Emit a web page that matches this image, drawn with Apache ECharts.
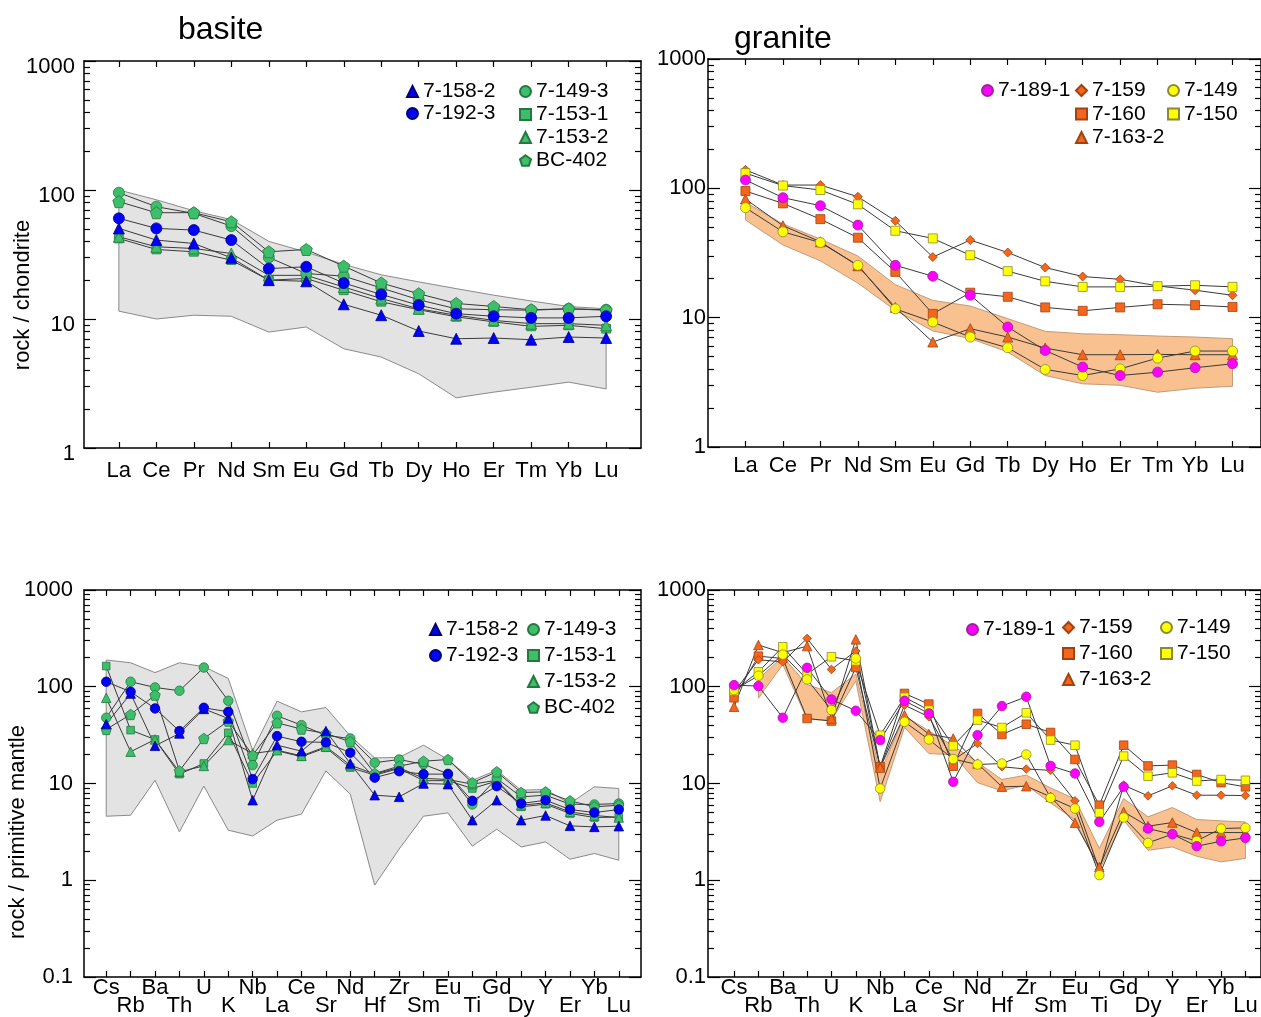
<!DOCTYPE html>
<html><head><meta charset="utf-8">
<script src="https://cdn.jsdelivr.net/npm/echarts@6/dist/echarts.min.js"></script>
<style>html,body{margin:0;padding:0;background:#fff}#c{width:1261px;height:1017px}</style>
</head><body><div id="c"></div>
<script>
const FONT = 'Liberation Sans, Arial, sans-serif';

// ---------- categories / tick labels ----------
const REE = ['La','Ce','Pr','Nd','Sm','Eu','Gd','Tb','Dy','Ho','Er','Tm','Yb','Lu'];
const SPIDER = ['Cs','Rb','Ba','Th','U','K','Nb','La','Ce','Sr','Nd','Hf','Zr','Sm','Eu','Ti','Gd','Dy','Y','Er','Yb','Lu'];
const Y_TICKS_CHONDRITE = [1, 10, 100, 1000];
const Y_TICKS_MANTLE = [0.1, 1, 10, 100, 1000];

// ---------- panel A: basite, chondrite-normalised REE ----------
const bREE_7_158_2 = [50.4, 40.9, 38.5, 29.8, 20.0, 19.6, 13.0, 10.7, 8.07, 7.03, 7.12, 6.91, 7.25, 7.12];
const bREE_7_192_3 = [60.3, 50.4, 48.9, 40.9, 24.6, 25.4, 19.0, 15.5, 12.8, 11.0, 10.5, 10.2, 10.2, 10.5];
const bREE_7_149_3 = [95.3, 74.2, 65.9, 52.5, 30.0, 22.5, 21.5, 17.4, 14.1, 12.0, 11.8, 11.7, 12.0, 11.8];
const bREE_7_153_1 = [42.1, 34.6, 33.2, 28.6, 20.0, 20.6, 16.7, 13.6, 11.8, 10.4, 9.5, 8.77, 8.93, 8.41];
const bREE_7_153_2 = [43.4, 36.3, 35.2, 32.2, 21.8, 21.8, 17.7, 14.4, 12.0, 10.7, 9.76, 9.2, 9.2, 8.93];
const bREE_BC_402  = [81.2, 66.7, 66.7, 56.7, 33.2, 34.6, 25.7, 19.0, 15.7, 13.2, 12.5, 11.8, 12.0, 11.7];
const bREE_fieldHi = [100, 84, 69, 59, 40, 33, 26.5, 22, 19.4, 17.2, 15.3, 13.8, 12.5, 12.0];
const bREE_fieldLo = [11.5, 10.0, 10.7, 10.5, 7.92, 8.67, 5.88, 5.07, 3.76, 2.45, 2.71, 2.96, 3.24, 2.87];

// ---------- panel B: granite, chondrite-normalised REE ----------
const gREE_7_189_1 = [116, 84.7, 73.4, 52.0, 25.4, 20.9, 14.9, 8.47, 5.58, 4.15, 3.57, 3.79, 4.10, 4.40];
const gREE_7_159   = [139, 106, 106, 86.1, 56.1, 29.4, 39.8, 31.9, 24.4, 20.8, 19.8, 17.6, 16.3, 14.9];
const gREE_7_160   = [95.3, 76.5, 57.8, 41.5, 22.6, 10.7, 15.6, 14.5, 12.0, 11.3, 12.0, 12.7, 12.5, 12.1];
const gREE_7_163_2 = [82.7, 51.4, 38.6, 25.2, 12.0, 6.48, 8.22, 7.08, 5.82, 5.17, 5.17, 5.20, 5.17, 5.17];
const gREE_7_149   = [70.8, 46.1, 38.1, 25.4, 11.7, 9.25, 7.08, 5.85, 3.98, 3.57, 4.02, 4.87, 5.52, 5.52];
const gREE_7_150   = [131, 105, 97.1, 75.2, 47.0, 41.0, 30.4, 22.9, 19.1, 17.3, 17.3, 17.5, 17.8, 17.3];
const gREE_fieldHi = [78, 53, 40.5, 30, 18, 13.6, 12.3, 9.82, 7.84, 7.51, 7.38, 7.21, 7.08, 6.88];
const gREE_fieldLo = [57, 36.5, 27.5, 18.5, 11.4, 7.9, 6.9, 5.42, 3.57, 3.08, 3.0, 2.65, 2.85, 2.95];

// ---------- panel C: basite, primitive-mantle spider ----------
const bPM_7_158_2 = [41.1, 85, 24.5, 32.9, 59, 47.0, 6.72, 24.9, 21.6, 34.8, 16.1, 7.57, 7.28, 10.0, 9.84, 4.18, 6.72, 4.18, 4.67, 3.65, 3.56, 3.62];
const bPM_7_192_3 = [112.6, 88.8, 59.7, 34.8, 60.6, 55.1, 11.1, 30.9, 27.0, 26.6, 20.8, 11.5, 13.4, 12.5, 12.5, 6.62, 9.38, 6.21, 6.72, 5.38, 5.01, 5.38];
const bPM_7_149_3 = [47.8, 112.6, 98.4, 90.9, 158, 71.6, 15.5, 50.1, 40.1, 31.4, 29.2, 16.4, 17.7, 15.8, 12.6, 6.07, 11.3, 7.28, 7.57, 6.11, 6.07, 6.21];
const bPM_7_153_1 = [163.6, 35.6, 28.5, 12.5, 16.1, 33.4, 10.0, 21.8, 18.9, 23.4, 14.6, 12.2, 14.3, 10.7, 10.7, 8.88, 10.6, 5.74, 6.11, 4.9, 4.45, 4.5];
const bPM_7_153_2 = [76.9, 21.3, 28.5, 13.2, 15.2, 28.1, 20.4, 22.1, 19.3, 24.0, 15.5, 12.5, 14.6, 11.3, 11.0, 9.84, 10.8, 5.97, 6.31, 5.09, 4.67, 4.45];
const bPM_BC_402  = [36.2, 51.7, 82, 13.5, 29.2, 44.2, 19.6, 42.4, 36.5, 32.9, 27.0, 12.7, 15.1, 17.0, 17.7, 10.2, 13.2, 8.07, 8.2, 6.62, 5.74, 5.97];
const bPM_fieldHi = [189, 177, 140, 177, 161, 122, 22, 71, 55, 61, 31, 18.4, 18.6, 24.9, 17.7, 10.8, 13.7, 8.53, 8.67, 6.21, 9.24, 8.88];
const bPM_fieldLo = [4.59, 4.70, 10.8, 3.16, 9.4, 3.29, 2.87, 4.18, 4.82, 13.5, 7.76, 0.89, 2.1, 4.59, 4.97, 2.25, 3.37, 2.21, 2.49, 1.65, 1.89, 1.61];

// ---------- panel D: granite, primitive-mantle spider ----------
const gPM_7_189_1 = [104, 101.6, 47.8, 157, 73.9, 56.5, 28.1, 71.6, 53.0, 10.4, 31.6, 63.1, 78.8, 15.2, 12.7, 4.01, 9.24, 3.42, 2.99, 2.25, 2.53, 2.74];
const gPM_7_159   = [88, 190, 181, 316, 151, 234, 14.7, 64.6, 48.9, 17.4, 25.9, 14.9, 14.1, 13.7, 6.62, 1.29, 9.6, 7.45, 9.46, 7.57, 7.57, 7.5];
const gPM_7_160   = [76.9, 207, 196, 47.0, 44.2, 158, 14.9, 85.3, 66.2, 15.1, 53, 32.1, 41, 33.7, 17.7, 5.97, 24.9, 15.2, 15.5, 12.4, 10.2, 9.24];
const gPM_7_163_2 = [62.1, 270, 225, 263, 47.0, 309, 14.6, 50.9, 32.4, 29.2, 16.1, 9.24, 9.38, 7.28, 3.92, 1.37, 5.09, 3.62, 3.95, 3.11, 3.11, 3.11];
const gPM_7_149   = [92.4, 130, 215, 119, 57.4, 196, 8.88, 43.4, 28.5, 17.9, 15.7, 16.1, 19.95, 7.1, 5.51, 1.13, 4.45, 2.43, 3.0, 2.55, 3.42, 3.48];
const gPM_7_150   = [90.2, 143, 259, 135, 204, 185, 31.6, 78, 57.4, 24.5, 45.2, 37.9, 53.8, 28.1, 24.9, 4.97, 19.2, 11.9, 12.9, 10.6, 11.0, 10.8];
const gPM_fieldHi = [null, 120, 205, 105, 87, 135, 13, 50, 35, 24.5, 16.5, 11, 12.2, 9, 6.9, 2.13, 7.0, 4.52, 5.65, 4.24, 4.11, 4.01];
const gPM_fieldLo = [null, 76, 170, 46, 45, 115, 6.5, 38, 20.4, 19.8, 10.2, 8.4, 9.6, 6.3, 4.2, 1.27, 4.18, 2.04, 2.21, 1.77, 1.55, 1.68];

// ---------- styles ----------
const PENTAGON = 'path://M0,-10L9.51,-3.09L5.88,8.09L-5.88,8.09L-9.51,-3.09Z';
const BLUE = {fill:'#0000ff', stroke:'#00007a'};
const GREEN = {fill:'#3dbe6b', stroke:'#23783f'};
const MAG = {fill:'#ff00ff', stroke:'#a020a0'};
const ORANGE = {fill:'#f3661d', stroke:'#a4420e'};
const YELLOW = {fill:'#ffff00', stroke:'#8a8a30'};
const STYLE = {
  '7-158-2': {symbol:'triangle', size:10, icon:'triangle', c:BLUE},
  '7-192-3': {symbol:'circle', size:10, icon:'circle', c:BLUE},
  '7-149-3': {symbol:'circle', size:10, icon:'circle', c:GREEN},
  '7-153-1': {symbol:'rect', size:8, icon:'rect', c:GREEN},
  '7-153-2': {symbol:'triangle', size:10, icon:'triangle', c:GREEN},
  'BC-402':  {symbol:PENTAGON, size:11, icon:PENTAGON, c:GREEN},
  '7-189-1': {symbol:'circle', size:10, icon:'circle', c:MAG},
  '7-159':   {symbol:'diamond', size:9, icon:'diamond', c:ORANGE},
  '7-160':   {symbol:'rect', size:9, icon:'rect', c:ORANGE},
  '7-163-2': {symbol:'triangle', size:10, icon:'triangle', c:ORANGE},
  '7-149':   {symbol:'circle', size:10, icon:'circle', c:YELLOW},
  '7-150':   {symbol:'rect', size:9, icon:'rect', c:YELLOW}
};

const panels = [
  {left:84, top:61, width:557, height:387, cats:REE, xmin:-0.93, xmax:13.93, yt:Y_TICKS_CHONDRITE,
   yLabMargin:9, yLabDown:true, xLabMargin:14, alt:false, scale:1.1,
   band:[bREE_fieldHi, bREE_fieldLo, '#e3e3e3', '#8a8a8a'],
   lines:[['7-153-1',bREE_7_153_1],['7-153-2',bREE_7_153_2],['7-149-3',bREE_7_149_3],['BC-402',bREE_BC_402],['7-158-2',bREE_7_158_2],['7-192-3',bREE_7_192_3]]},
  {left:708, top:59, width:553, height:388, cats:REE, xmin:-1.0, xmax:13.76, yt:Y_TICKS_CHONDRITE,
   yLabMargin:2, yLabDown:false, xLabMargin:10, alt:false, scale:1.0,
   band:[gREE_fieldHi, gREE_fieldLo, '#f9c190', '#c49a78'],
   lines:[['7-160',gREE_7_160],['7-159',gREE_7_159],['7-163-2',gREE_7_163_2],['7-150',gREE_7_150],['7-149',gREE_7_149],['7-189-1',gREE_7_189_1]]},
  {left:84, top:590, width:557, height:387, cats:SPIDER, xmin:-0.91, xmax:21.91, yt:Y_TICKS_MANTLE,
   yLabMargin:11, yLabDown:false, xLabMargin:2, alt:true, scale:0.95,
   band:[bPM_fieldHi, bPM_fieldLo, '#e3e3e3', '#8a8a8a'],
   lines:[['7-153-1',bPM_7_153_1],['7-153-2',bPM_7_153_2],['7-149-3',bPM_7_149_3],['BC-402',bPM_BC_402],['7-158-2',bPM_7_158_2],['7-192-3',bPM_7_192_3]]},
  {left:708, top:590, width:553, height:387, cats:SPIDER, xmin:-1.07, xmax:21.64, yt:Y_TICKS_MANTLE,
   yLabMargin:2, yLabDown:false, xLabMargin:2, alt:true, scale:0.95,
   band:[gPM_fieldHi, gPM_fieldLo, '#f9c190', '#c49a78'],
   lines:[['7-160',gPM_7_160],['7-159',gPM_7_159],['7-163-2',gPM_7_163_2],['7-150',gPM_7_150],['7-149',gPM_7_149],['7-189-1',gPM_7_189_1]]}
];

function minorTicks(decades) {
  const out = [];
  for (let j = 0; j < decades.length - 1; j++)
    for (let k = 2; k <= 9; k++) out.push(+(decades[j] * k).toPrecision(3));
  return out;
}

const grid = [], xAxis = [], yAxis = [], series = [];
const BLACK = '#000';

panels.forEach((p, gi) => {
  grid.push({left:p.left, top:p.top, width:p.width, height:p.height, containLabel:false, outerBoundsMode:'none'});
  const idx = p.cats.map((_, i) => i);
  const xi = xAxis.length;
  // labelIdx: which category labels this axis prints; margin: gap below axis line
  const xBase = (pos, axisVisible, labelIdx, margin) => ({
    gridIndex:gi, type:'value', position:pos, min:p.xmin, max:p.xmax,
    axisLine:{show:axisVisible, onZero:false, lineStyle:{color:BLACK, width:1.5}},
    axisTick:{show:axisVisible, inside:true, length:6, customValues:idx, lineStyle:{color:BLACK, width:1.2}},
    axisLabel:{show:labelIdx.length > 0, customValues:labelIdx.length ? labelIdx : [0], margin:margin, color:BLACK,
      fontFamily:FONT, fontSize:22, lineHeight:18, showMinLabel:true, showMaxLabel:true, hideOverlap:false,
      formatter: v => p.cats[Math.round(v)]},
    splitLine:{show:false}, minorTick:{show:false}
  });
  if (p.alt) {
    const even = idx.filter(i => i % 2 === 0), odd = idx.filter(i => i % 2 === 1);
    xAxis.push(xBase('bottom', true, even, p.xLabMargin), xBase('top', true, [], 0), xBase('bottom', false, odd, p.xLabMargin + 18));
  } else {
    xAxis.push(xBase('bottom', true, idx, p.xLabMargin), xBase('top', true, [], 0));
  }
  const yi = yAxis.length;
  const yBase = (pos, major) => ({
    gridIndex:gi, type:'log', logBase:10, position:pos, min:p.yt[0], max:p.yt[p.yt.length - 1],
    axisLine:{show:major, onZero:false, lineStyle:{color:BLACK, width:1.5}},
    axisTick:{show:true, inside:true, length: major ? 12 : 6, customValues: major ? p.yt : minorTicks(p.yt), lineStyle:{color:BLACK, width:1.2}},
    axisLabel:Object.assign({show: major && pos === 'left', customValues:p.yt, margin:p.yLabMargin, color:BLACK, fontFamily:FONT, fontSize:22,
      showMinLabel:true, showMaxLabel:true,
      formatter: v => String(+Number(v).toPrecision(3))},
      p.yLabDown ? {verticalAlign:'top', lineHeight:12} : {}),
    splitLine:{show:false}, minorTick:{show:false}
  });
  yAxis.push(yBase('left', true), yBase('left', false), yBase('right', true), yBase('right', false));

  const [hi, lo, fill, stroke] = p.band;
  series.push({
    type:'custom', xAxisIndex:xi, yAxisIndex:yi, z:1, silent:true, animation:false,
    data:[[0, 10]],
    renderItem: (params, api) => {
      const pts = [];
      for (let i = 0; i < hi.length; i++) if (hi[i] != null) pts.push(api.coord([i, hi[i]]));
      for (let i = lo.length - 1; i >= 0; i--) if (lo[i] != null) pts.push(api.coord([i, lo[i]]));
      return {type:'polygon', shape:{points:pts}, style:{fill:fill, stroke:stroke, lineWidth:1}};
    }
  });

  p.lines.forEach(([name, vals]) => {
    const s = STYLE[name];
    series.push({
      type:'line', name:name, xAxisIndex:xi, yAxisIndex:yi, z:3,
      data: vals.map((v, i) => [i, v]),
      symbol:s.symbol, symbolSize:s.size * p.scale, showSymbol:true, showAllSymbol:true,
      itemStyle:{color:s.c.fill, borderColor:s.c.stroke, borderWidth:0.8},
      lineStyle:{color:'#3a3a3a', width:1},
      emphasis:{disabled:true}, animation:false
    });
  });
});

function legendBox(left, top, names, gap) {
  return {
    left:left, top:top, orient:'vertical', padding:0, itemGap:gap, itemWidth:11, itemHeight:11,
    selectedMode:false,
    textStyle:{fontFamily:FONT, fontSize:21, color:BLACK},
    data: names.map(n => ({name:n, icon:STYLE[n].icon}))
  };
}

const legend = [
  legendBox(406, 81, ['7-158-2', '7-192-3'], 1),
  legendBox(519, 81, ['7-149-3', '7-153-1', '7-153-2', 'BC-402'], 2),
  legendBox(981, 80, ['7-189-1'], 2),
  legendBox(1075, 80, ['7-159', '7-160', '7-163-2'], 2.5),
  legendBox(1167, 80, ['7-149', '7-150'], 2.5),
  legendBox(429, 619, ['7-158-2', '7-192-3'], 5),
  legendBox(527, 619, ['7-149-3', '7-153-1', '7-153-2', 'BC-402'], 5),
  legendBox(966, 619, ['7-189-1'], 5),
  legendBox(1062, 617, ['7-159', '7-160', '7-163-2'], 5),
  legendBox(1160, 617, ['7-149', '7-150'], 5)
];

const graphic = [
  {type:'text', left:178, top:14, style:{text:'basite', font:'32px ' + FONT, fill:BLACK}},
  {type:'text', left:734, top:23, style:{text:'granite', font:'32px ' + FONT, fill:BLACK}},
  {type:'text', x:23, y:295, rotation:Math.PI / 2, style:{text:'rock / chondrite', font:'22px ' + FONT, fill:BLACK, align:'center', verticalAlign:'middle'}},
  {type:'text', x:18, y:832, rotation:Math.PI / 2, style:{text:'rock / primitive mantle', font:'22px ' + FONT, fill:BLACK, align:'center', verticalAlign:'middle'}}
];

const chart = echarts.init(document.getElementById('c'), null, {renderer:'canvas'});
chart.setOption({
  animation:false, backgroundColor:'#fff',
  grid, xAxis, yAxis, series, legend, graphic
});
</script>
</body></html>
